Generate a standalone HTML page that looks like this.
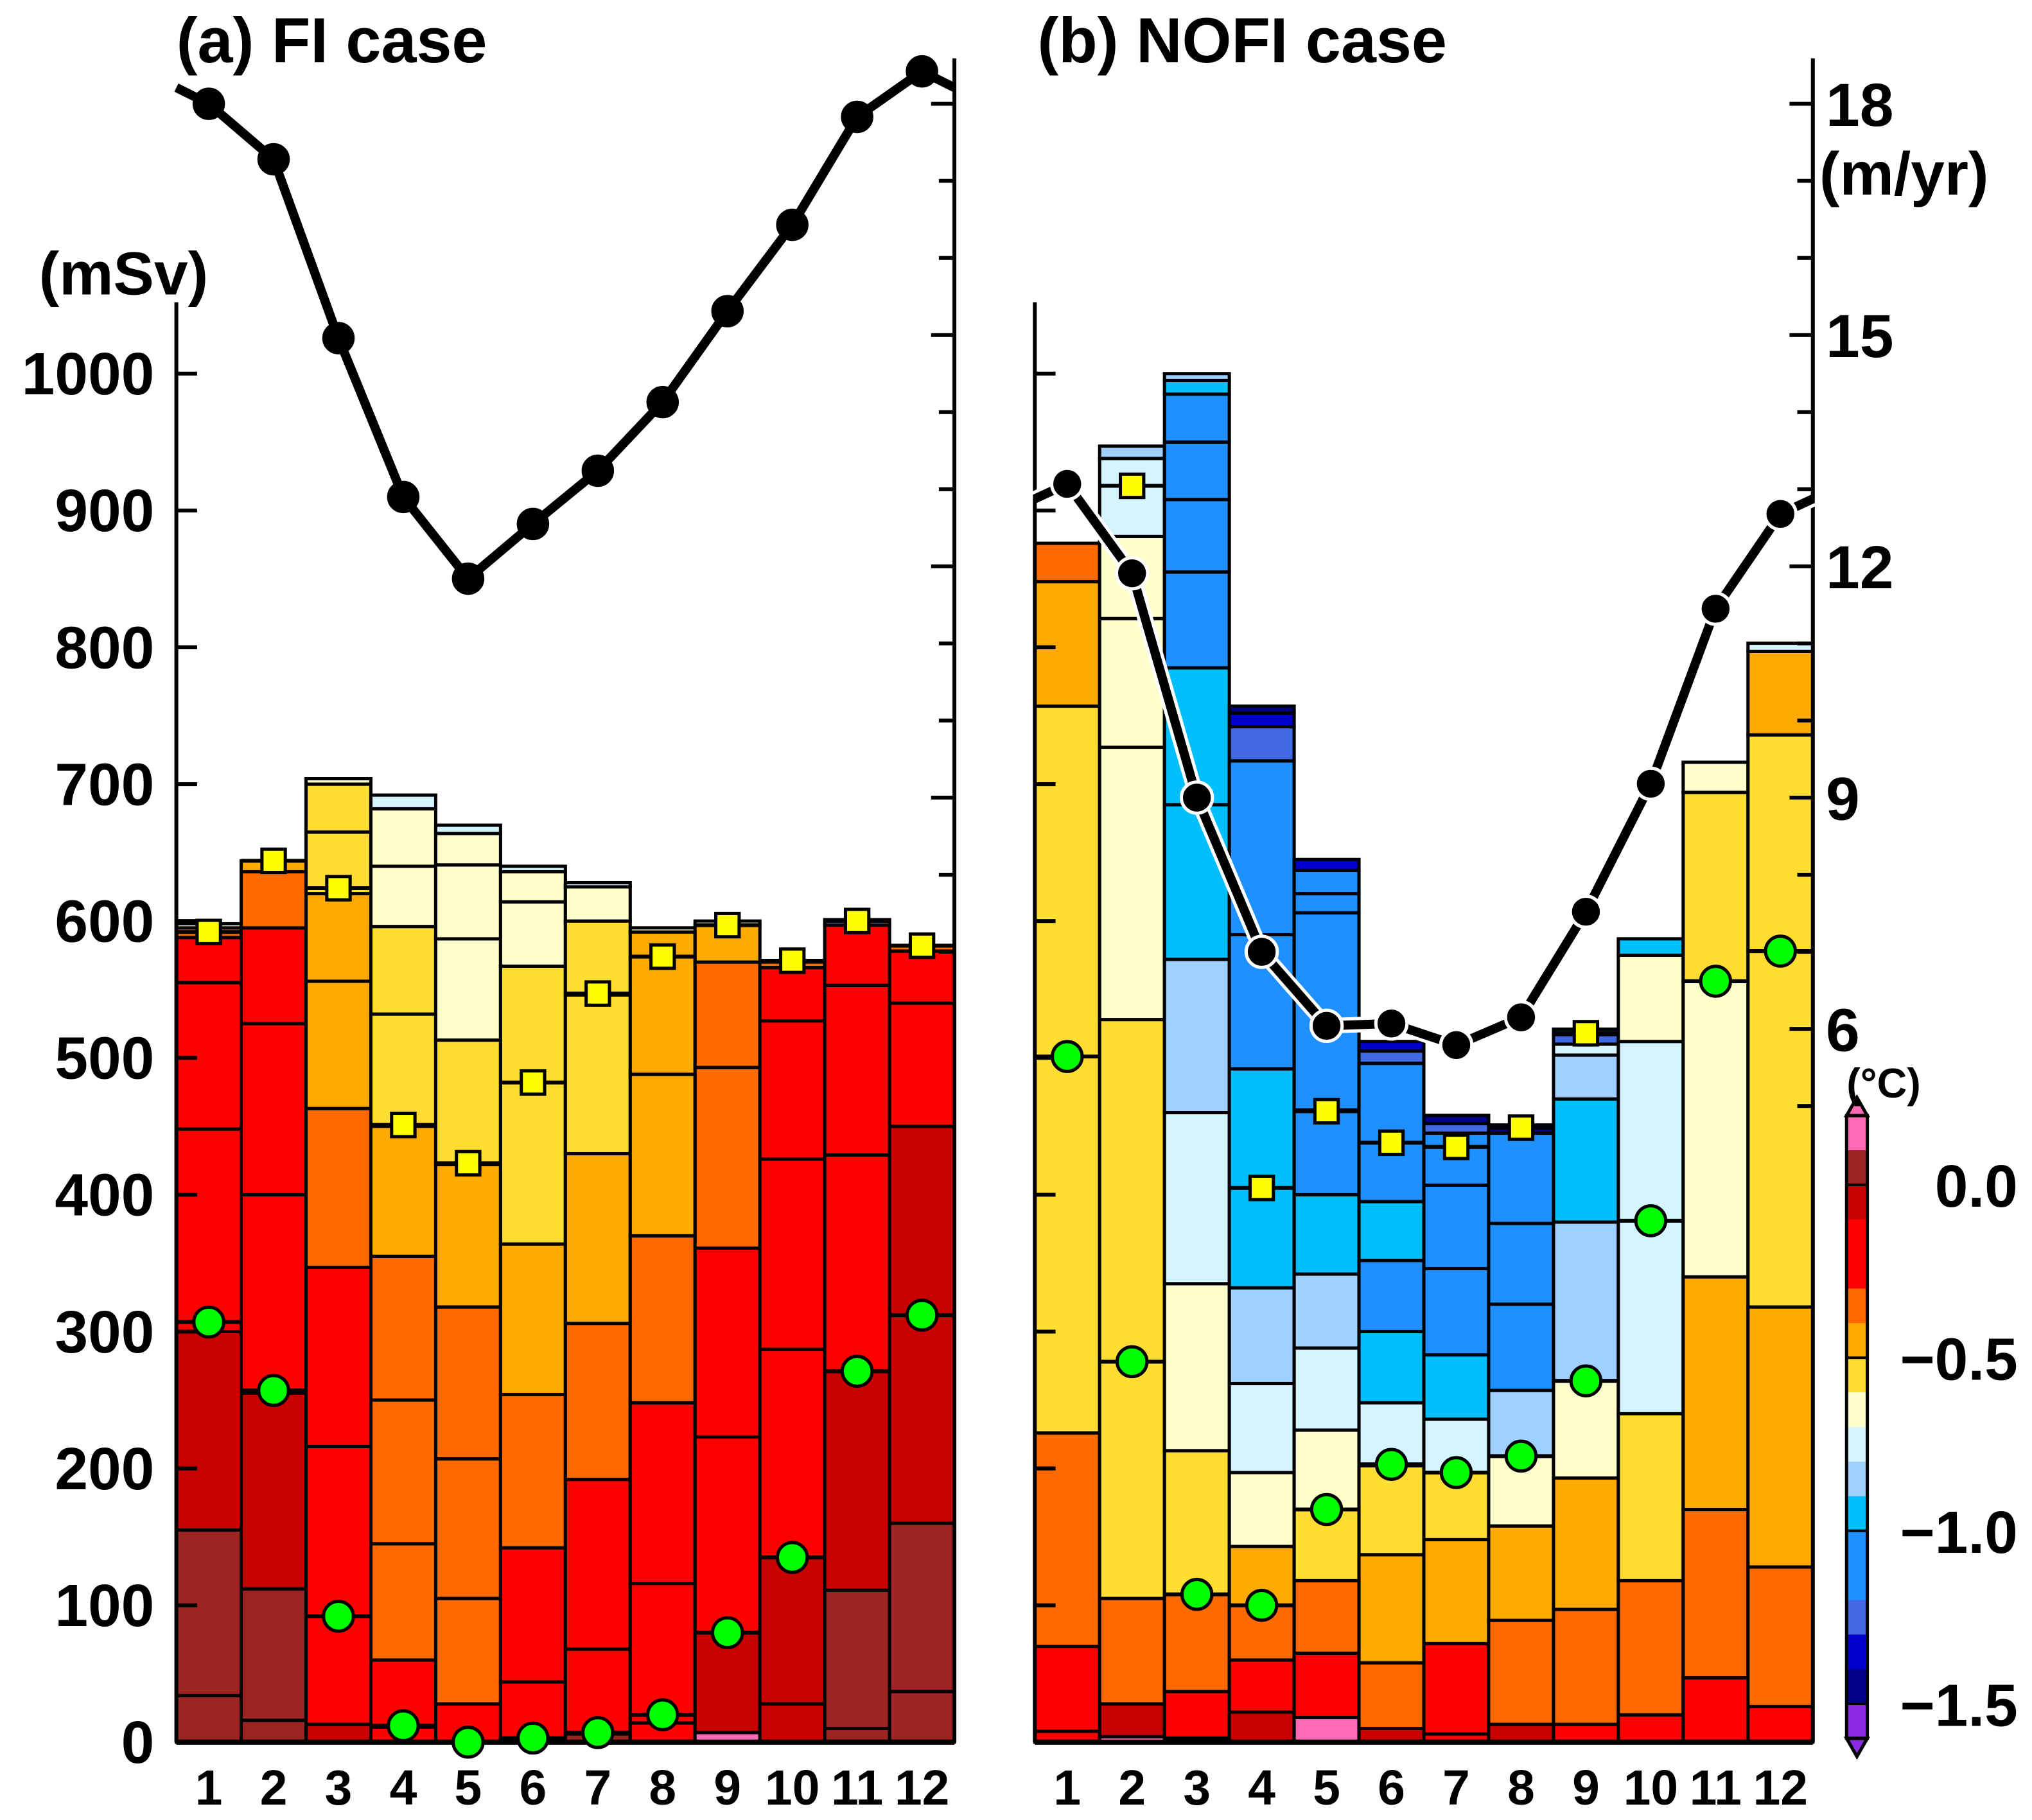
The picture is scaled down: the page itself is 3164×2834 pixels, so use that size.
<!DOCTYPE html>
<html><head><meta charset="utf-8"><style>
html,body{margin:0;padding:0;background:#fff}
svg{display:block}
text{font-family:"Liberation Sans",sans-serif;font-weight:bold;fill:#000}
</style></head><body>
<svg id="chart" width="3164" height="2834" viewBox="0 0 1567 1403" preserveAspectRatio="none" xmlns="http://www.w3.org/2000/svg">
<g id="bars"></g><g id="axes"></g><g id="lines"></g>
<text x="136" y="48" font-size="49">(a) FI case</text>
<text x="800" y="48" font-size="49">(b) NOFI case</text>
<text x="30" y="227" font-size="47">(mSv)</text>
<text x="1403" y="150" font-size="47">(m/yr)</text>
<text x="1424" y="846" font-size="32">(°C)</text>
</svg>
<script>
const months=[1,2,3,4,5,6,7,8,9,10,11,12];
const yTicks=[0,100,200,300,400,500,600,700,800,900,1000];
const rTicks=[6,9,12,15,18];
const cbLabels=['0.0','−0.5','−1.0','−1.5'];
const COL={P:'#ff69b4',B:'#9e2323',D:'#c80000',R:'#ff0000',O:'#ff6a00',A:'#ffaa00',Y:'#ffdd33',L:'#ffffcc',C:'#d4f4ff',S:'#a0d0ff',Q:'#00bfff',U:'#1e90ff',V:'#4169e1',N:'#0000cd',K:'#00008b',M:'#8a2be2'};
const stacksA=[
[[34,'B'],[155,'B'],[300,'D'],[448,'R'],[555,'R'],[588,'R'],[595,'O'],[598,'L']],
[[16,'B'],[112,'B'],[255,'D'],[400,'R'],[525,'R'],[595,'R'],[636,'O'],[644,'A']],
[[13,'D'],[216,'R'],[347,'R'],[463,'O'],[556,'A'],[620,'A'],[665,'Y'],[700,'Y'],[704,'L']],
[[11,'R'],[60,'R'],[145,'O'],[250,'O'],[355,'O'],[450,'A'],[532,'Y'],[596,'Y'],[640,'L'],[682,'L'],[692,'C']],
[[28,'R'],[105,'O'],[207,'O'],[318,'O'],[422,'A'],[513,'Y'],[587,'L'],[641,'L'],[664,'L'],[670,'C']],
[[3,'B'],[44,'R'],[142,'R'],[254,'O'],[364,'A'],[567,'Y'],[614,'L'],[636,'L'],[640,'C']],
[[6,'B'],[68,'R'],[192,'R'],[306,'O'],[430,'A'],[546,'Y'],[600,'Y'],[625,'L'],[628,'C']],
[[14,'R'],[116,'R'],[248,'R'],[370,'O'],[488,'A'],[592,'A'],[595,'L']],
[[7,'P'],[80,'D'],[223,'R'],[361,'R'],[493,'O'],[570,'O'],[597,'A'],[600,'L']],
[[28,'D'],[135,'D'],[287,'R'],[426,'R'],[527,'R'],[566,'R'],[570,'O']],
[[10,'B'],[111,'B'],[271,'D'],[429,'R'],[553,'R'],[597,'R'],[601,'O']],
[[37,'B'],[160,'B'],[450,'D'],[540,'R'],[578,'R'],[582,'O']]];
const stacksB=[
[[8,'R'],[70,'R'],[226,'O'],[757,'Y'],[848,'A'],[876,'O']],
[[4,'P'],[28,'D'],[105,'O'],[278,'Y'],[528,'Y'],[727,'L'],[821,'L'],[881,'L'],[938,'C'],[947,'S']],
[[3,'D'],[37,'R'],[108,'O'],[213,'Y'],[335,'L'],[460,'C'],[572,'S'],[685,'Q'],[785,'Q'],[855,'U'],[908,'U'],[950,'U'],[985,'U'],[995,'Q'],[1000,'S']],
[[22,'D'],[60,'R'],[100,'O'],[143,'A'],[197,'L'],[262,'C'],[332,'S'],[492,'Q'],[590,'U'],[717,'U'],[742,'V'],[752,'N'],[757,'K']],
[[18,'P'],[65,'R'],[118,'O'],[170,'Y'],[228,'L'],[288,'C'],[342,'S'],[400,'Q'],[462,'U'],[606,'U'],[620,'U'],[637,'U'],[645,'N']],
[[10,'D'],[58,'O'],[137,'A'],[202,'Y'],[248,'C'],[300,'Q'],[352,'U'],[395,'Q'],[496,'U'],[505,'V'],[512,'N']],
[[6,'R'],[72,'R'],[148,'A'],[197,'Y'],[236,'C'],[283,'Q'],[346,'U'],[407,'U'],[445,'U'],[452,'V'],[458,'K']],
[[13,'D'],[89,'O'],[158,'A'],[209,'L'],[257,'S'],[320,'U'],[379,'U'],[445,'U'],[451,'K']],
[[13,'R'],[97,'O'],[193,'A'],[264,'L'],[380,'S'],[470,'Q'],[502,'S'],[510,'C'],[517,'V'],[521,'N']],
[[20,'R'],[118,'O'],[240,'Y'],[512,'C'],[575,'L'],[587,'Q']],
[[47,'R'],[170,'O'],[340,'A'],[556,'L'],[694,'Y'],[716,'L']],
[[26,'R'],[128,'O'],[318,'A'],[578,'Y'],[736,'Y'],[797,'A'],[803,'C']]];
const squaresA=[592,644,624,451,423,482,547,574,597,571,600,582];
const circlesA=[307,257,92,12,0,3,7,20,80,135,271,312];
const squaresB=[null,918,null,405,461,438,435,449,518,null,null,null];
const circlesB=[501,278,108,100,170,203,197,209,264,381,556,578];
const transA=[18.0,17.28,14.96,12.9,11.84,12.55,13.24,14.13,15.31,16.43,17.83,18.42];
const transB=[13.07,11.91,9.0,7.0,6.04,6.07,5.79,6.15,7.52,9.18,11.45,12.68];

const NS='http://www.w3.org/2000/svg';
function mk(parent,tag,attrs){const e=document.createElementNS(NS,tag);for(const k in attrs)e.setAttribute(k,attrs[k]);parent.appendChild(e);return e;}
const Y0=1343, PXPER=1.055;
const y=v=>Y0-v*PXPER;
const yT=v=>80+(18-v)*59.43;
const panels=[{x0:136,stacks:stacksA,sq:squaresA,ci:circlesA,tr:transA,id:'a',white:false},
              {x0:798,stacks:stacksB,sq:squaresB,ci:circlesB,tr:transB,id:'b',white:true}];
const W=50;
const gB=document.getElementById('bars'),gA=document.getElementById('axes'),gL=document.getElementById('lines');
const xc=(p,i)=>p.x0+W*i+W/2;
panels.forEach(p=>{
  p.stacks.forEach((st,i)=>{
    let prev=0;
    st.forEach((s,j)=>{
      const r=mk(gB,'rect',{x:p.x0+W*i,y:y(s[0]),width:W,height:y(prev)-y(s[0]),fill:COL[s[1]],stroke:'#000','stroke-width':2.5});
      
      
      prev=s[0];
    });
  });
  const L=mk(gA,'line',{x1:p.x0,y1:233,x2:p.x0,y2:Y0,stroke:'#000','stroke-width':3});
  
  const Rx=p.x0+600;
  const R=mk(gA,'line',{x1:Rx,y1:45,x2:Rx,y2:Y0,stroke:'#000','stroke-width':3});
  
  const B=mk(gA,'line',{x1:p.x0,y1:Y0,x2:Rx,y2:Y0,stroke:'#000','stroke-width':4});
  
  yTicks.forEach(v=>{mk(gA,'line',{x1:p.x0,y1:y(v),x2:p.x0+16,y2:y(v),stroke:'#000','stroke-width':3});
    if(p.id==='a'){const t=mk(gA,'text',{x:119,y:y(v)+16,'font-size':46,'text-anchor':'end'});t.textContent=v;
      }});
  for(let v=(p.id==='a'?7:5);v<=18;v++){const maj=v%3===0;mk(gA,'line',{x1:Rx,y1:yT(v),x2:Rx-(maj?18:12),y2:yT(v),stroke:'#000','stroke-width':3});}
  months.forEach((m,i)=>{const t=mk(gA,'text',{x:xc(p,i),y:1391,'font-size':38,'text-anchor':'middle'});t.textContent=m;
    });
  p.ci.forEach((v,i)=>{if(v==null)return;
    mk(gL,'line',{x1:p.x0+W*i,y1:y(v),x2:p.x0+W*i+W,y2:y(v),stroke:'#000','stroke-width':3});
    const c=mk(gL,'circle',{cx:xc(p,i),cy:y(v),r:11.5,fill:'#00ff00',stroke:'#000','stroke-width':2.5});
    });
  p.sq.forEach((v,i)=>{if(v==null)return;
    mk(gL,'line',{x1:p.x0+W*i,y1:y(v),x2:p.x0+W*i+W,y2:y(v),stroke:'#000','stroke-width':3});
    const s=mk(gL,'rect',{x:xc(p,i)-9,y:y(v)-9,width:18,height:18,fill:'#ffff00',stroke:'#000','stroke-width':2.5});
    });
  const wrapL=(p.tr[0]+p.tr[11])/2;
  let pts=[[p.x0,yT(wrapL)]];
  p.tr.forEach((v,i)=>pts.push([xc(p,i),yT(v)]));
  pts.push([Rx,yT(wrapL)]);
  const d='M'+pts.map(q=>q.join(',')).join(' L');
  if(p.white){mk(gL,'path',{d:d,fill:'none',stroke:'#fff','stroke-width':12});}
  const ln=mk(gL,'path',{d:d,fill:'none',stroke:'#000','stroke-width':7});
  
  p.tr.forEach((v,i)=>{const c=mk(gL,'circle',{cx:xc(p,i),cy:yT(v),r:12,fill:'#000',stroke:p.white?'#fff':'#000','stroke-width':p.white?2.5:1});
    });
});
rTicks.forEach(v=>{const t=mk(gA,'text',{x:1408,y:yT(v)+17,'font-size':47});t.textContent=v;
  });
const cbCols=['P','B','D','R','R','O','A','Y','L','C','S','Q','U','U','V','N','K','M'];
const cbx=1424,cbw=16,cbt=860,cu=26.67;
cbCols.forEach((c,i)=>{const r=mk(gA,'rect',{x:cbx,y:cbt+i*cu,width:cbw,height:cu+0.5,fill:COL[c]});
  });
mk(gA,'polygon',{points:`${cbx},${cbt} ${cbx+cbw/2},${cbt-14} ${cbx+cbw},${cbt}`,fill:COL.P,stroke:'#000','stroke-width':2.5});
const cbb=cbt+18*cu;
mk(gA,'polygon',{points:`${cbx},${cbb} ${cbx+cbw/2},${cbb+14} ${cbx+cbw},${cbb}`,fill:COL.M,stroke:'#000','stroke-width':2.5});
mk(gA,'rect',{x:cbx,y:cbt,width:cbw,height:18*cu,fill:'none',stroke:'#000','stroke-width':2.5});
[2,7,12,17].forEach((k,i)=>{const yy=cbt+k*cu;mk(gA,'line',{x1:cbx,y1:yy,x2:cbx+cbw,y2:yy,stroke:'#000','stroke-width':2});
  const t=mk(gA,'text',{x:1556,y:yy+17,'font-size':46,'text-anchor':'end'});t.textContent=cbLabels[i];
  });
</script>
</body></html>
